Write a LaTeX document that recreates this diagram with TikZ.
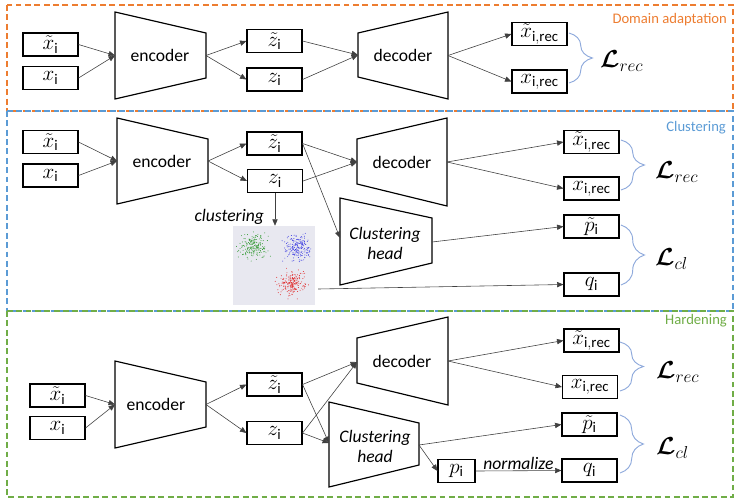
\documentclass[tikz,border=0pt]{standalone}
\usepackage{fix-cm}
\usepackage{amsmath,amssymb}
\usepackage{fontspec}
\setmainfont{Carlito}
\usetikzlibrary{arrows.meta,calc,decorations.pathreplacing}
\definecolor{orng}{HTML}{ED7D31}
\definecolor{blu}{HTML}{5B9BD5}
\definecolor{grn}{HTML}{70AD47}
\definecolor{brccol}{HTML}{8FAADC}
\definecolor{scbg}{HTML}{E8E8F0}
\definecolor{scg}{RGB}{40,150,40}
\definecolor{scb}{RGB}{50,50,225}
\definecolor{scr}{RGB}{225,35,35}

\begin{document}
\begin{tikzpicture}[x=0.03cm,y=-0.03cm,
  box/.style={draw,line width=0.9pt,minimum width=1.65cm,minimum height=0.69cm,inner sep=0pt,font=\fontsize{18}{20}\selectfont},
  trap/.style={draw,line width=1pt,fill=white},
  blk/.style={font=\fontsize{15}{18}\selectfont,align=center},
  arr/.style={draw=black!75,line width=0.5pt,-{Triangle[length=5.5pt,width=4.5pt]}},
  brc/.style={draw=brccol,line width=0.8pt,decorate,decoration={brace,amplitude=20pt}},
  loss/.style={font=\fontsize{21}{24}\selectfont,anchor=west},
  panel/.style={line width=1pt,dash pattern=on 5pt off 3pt},
  ptitle/.style={font=\fontsize{12.5}{14}\selectfont,anchor=east}]
\useasboundingbox (0,0) rectangle (736,499);

 %枠
 \draw[panel,orng] (7,5) rectangle (733,111);
 \draw[panel,blu] (7,111) rectangle (733,311);
 \draw[panel,grn] (7,311) rectangle (733,497);
 \node[ptitle,text=orng] (tda) at (731,20) {Domain adaptation};
 \node[ptitle,text=blu] (tcl) at (730,128) {Clustering};
 \node[ptitle,text=grn] (thd) at (731,321) {Hardening};

 %--- Domain adaptation ---
 \node[box] (xt1) at (50.5,44.5) {$\tilde{x}_{\mathrm{i}}$};
 \node[box] (x1) at (50.5,78) {$x_{\mathrm{i}}$};
 \draw[trap] (115,12)--(206,33)--(206,78)--(115,99)--cycle; %encoder
 \node[blk] (enc1) at (160,55.5) {encoder};
 \coordinate (enc1in) at (115,55.5);
 \coordinate (enc1out) at (206,55.5);
 \node[box] (zt1) at (274.5,41) {$\tilde{z}_{\mathrm{i}}$};
 \node[box] (z1) at (274.5,79.5) {$z_{\mathrm{i}}$};
 \draw[trap] (358,33)--(448,12)--(448,99)--(358,77)--cycle; %decoder
 \node[blk] (dec1) at (403,55.5) {decoder};
 \coordinate (dec1in) at (358,55);
 \coordinate (dec1out) at (448,55.5);
 \node[box] (xtr1) at (539.5,34) {$\tilde{x}_{\mathrm{i,rec}}$};
 \node[box] (xr1) at (539.5,81.5) {$x_{\mathrm{i,rec}}$};
 \draw[brc] (569,33)--(569,83);
 \node[loss] (lrec1) at (596,61) {$\boldsymbol{\mathcal{L}}_{rec}$};
 \foreach \a/\b in {xt1.east/enc1in,x1.east/enc1in,enc1out/zt1.west,enc1out/z1.west,
   zt1.east/dec1in,z1.east/dec1in,dec1out/xtr1.west,dec1out/xr1.west}
   \draw[arr] (\a)--(\b);

 %--- Clustering ---
 \node[box] (xt2) at (50.5,142) {$\tilde{x}_{\mathrm{i}}$};
 \node[box] (x2) at (50.5,175.5) {$x_{\mathrm{i}}$};
 \draw[trap] (117,118)--(208,139)--(208,183)--(117,204)--cycle; %encoder
 \node[blk] (enc2) at (162,161) {encoder};
 \coordinate (enc2in) at (117,161);
 \coordinate (enc2out) at (208,161);
 \node[box] (zt2) at (274.5,143.5) {$\tilde{z}_{\mathrm{i}}$};
 \node[box] (z2) at (275,181) {$z_{\mathrm{i}}$};
 \draw[trap] (357,139)--(447,118)--(447,206)--(357,184)--cycle; %decoder
 \node[blk] (dec2) at (402,162) {decoder};
 \coordinate (dec2in) at (357,162);
 \coordinate (dec2out) at (447,162);
 \draw[trap] (340,198)--(432,218)--(432,263)--(340,285)--cycle; %clustering head
 \node[blk] (ch2) at (385,243.5) {\itshape Clustering\\[-1pt]\itshape head};
 \coordinate (ch2in) at (340,238);
 \coordinate (ch2out) at (432,242);
 \node[box] (xtr2) at (591.5,142) {$\tilde{x}_{\mathrm{i,rec}}$};
 \node[box] (xr2) at (591.5,188.5) {$x_{\mathrm{i,rec}}$};
 \node[box] (pt2) at (591.5,226.5) {$\tilde{p}_{\mathrm{i}}$};
 \node[box] (q2) at (591.5,284.5) {$q_{\mathrm{i}}$};
 \draw[brc] (621,140)--(621,190);
 \draw[brc] (621,225)--(621,285);
 \node[loss] (lrec2) at (651,172) {$\boldsymbol{\mathcal{L}}_{rec}$};
 \node[loss] (lcl2) at (651,259) {$\boldsymbol{\mathcal{L}}_{cl}$};
 %散布図
 \node[fill=scbg,minimum width=2.46cm,minimum height=2.37cm,inner sep=0pt] (scat) at (274,265.5) {};
 \begin{scope}
  \clip (scat.south west) rectangle (scat.north east);
  \pgfmathsetseed{11}
  \foreach \cx/\cy/\col in {253/247/scg,297/248/scb,291/284/scr}
   \foreach \k in {1,...,190}{
    \pgfmathsetmacro\dx{6.5*(rand+rand+rand)}
    \pgfmathsetmacro\dy{6*(rand+rand+rand)}
    \fill[\col] (\cx+\dx,\cy+\dy) circle (0.4pt);
   }
 \end{scope}
 \coordinate (scout) at (318,289);
 \node[blk,anchor=east] (clul) at (268,217) {\itshape clustering};
 \foreach \a/\b in {xt2.east/enc2in,x2.east/enc2in,enc2out/zt2.west,enc2out/z2.west,
   zt2.east/dec2in,z2.east/dec2in,zt2.east/ch2in,dec2out/xtr2.west,dec2out/xr2.west,
   ch2out/pt2.west,scout/q2.west}
   \draw[arr] (\a)--(\b);
 \draw[arr] (z2.south)--(z2.south |- scat.north);

 %--- Hardening ---
 \node[box] (xt3) at (57.5,395.5) {$\tilde{x}_{\mathrm{i}}$};
 \node[box] (x3) at (57.5,428) {$x_{\mathrm{i}}$};
 \draw[trap] (115,361)--(206,382)--(206,427)--(115,448)--cycle; %encoder
 \node[blk] (enc3) at (156,404.5) {encoder};
 \coordinate (enc3in) at (115,404.5);
 \coordinate (enc3out) at (206,404.5);
 \node[box] (zt3) at (274.5,384.5) {$\tilde{z}_{\mathrm{i}}$};
 \node[box] (z3) at (274.5,433) {$z_{\mathrm{i}}$};
 \draw[trap] (357,338)--(448,317)--(448,405)--(357,383)--cycle; %decoder
 \node[blk] (dec3) at (402,361) {decoder};
 \coordinate (dec3in) at (357,362);
 \coordinate (dec3out) at (448,361);
 \draw[trap] (329,402)--(419,423)--(419,465)--(329,487)--cycle; %clustering head
 \node[blk] (ch3) at (375,446.5) {\itshape Clustering\\[-1pt]\itshape head};
 \coordinate (ch3in) at (329,443);
 \coordinate (ch3out) at (419,445);
 \node[box] (xtr3) at (591.5,340.5) {$\tilde{x}_{\mathrm{i,rec}}$};
 \node[box] (xr3) at (590,387) {$x_{\mathrm{i,rec}}$};
 \node[box] (pt3) at (589.5,424.5) {$\tilde{p}_{\mathrm{i}}$};
 \node[box] (q3) at (589.5,470.5) {$q_{\mathrm{i}}$};
 \node[box,minimum width=1.11cm] (p3) at (456.5,471) {$p_{\mathrm{i}}$};
 \draw[brc] (620,342)--(620,391);
 \draw[brc] (620,415)--(620,473);
 \node[loss] (lrec3) at (652,372) {$\boldsymbol{\mathcal{L}}_{rec}$};
 \node[loss] (lcl3) at (652,448) {$\boldsymbol{\mathcal{L}}_{cl}$};
 \foreach \a/\b in {xt3.east/enc3in,x3.east/enc3in,enc3out/zt3.west,enc3out/z3.west,
   zt3.east/dec3in,z3.east/dec3in,zt3.east/ch3in,z3.east/ch3in,dec3out/xtr3.west,
   dec3out/xr3.west,ch3out/pt3.west,ch3out/p3.west}
   \draw[arr] (\a)--(\b);
 \draw[arr] (p3.east)--(q3.west) node[midway,above,blk,inner sep=1pt] {\itshape normalize};
\end{tikzpicture}
\end{document}
